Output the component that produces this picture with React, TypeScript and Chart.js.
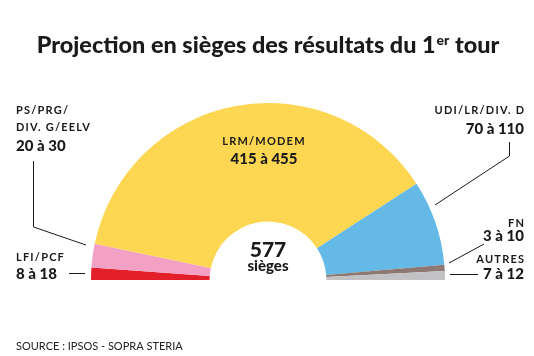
import React, { useEffect, useRef } from "react";
import { Chart, registerables } from "chart.js";

Chart.register(...registerables);

const parties = ["LFI/PCF", "PS/PRG/DIV. G/EELV", "LRM/MODEM", "UDI/LR/DIV. D", "FN", "AUTRES"];
const seatsMid = [13, 25, 435, 90, 6.5, 9.5];
const rangeLabels = ["8 à 18", "20 à 30", "415 à 455", "70 à 110", "3 à 10", "7 à 12"];
const colors = ["#e3202a", "#f3a0c5", "#fdd652", "#64b9e7", "#8d7872", "#c2c1c3"];
const totalSeats = "577";

const FONT = "Lato, 'Open Sans', sans-serif";

const labelsPlugin = {
  id: "labelsPlugin",
  afterDraw(chart: any) {
    const ctx = chart.ctx as CanvasRenderingContext2D;
    ctx.save();
    ctx.fillStyle = "#1a1a1a";
    ctx.textBaseline = "alphabetic";

    // Title, fitted to the reference width
    const t1 = "Projection en sièges des résultats du 1";
    const t2 = " tour";
    const measure = (size: number) => {
      ctx.font = `900 ${size}px ${FONT}`;
      const a = ctx.measureText(t1).width;
      const c = ctx.measureText(t2).width;
      ctx.font = `900 ${size * 0.6}px ${FONT}`;
      const b = ctx.measureText("er").width;
      return { a, b, c, tot: a + b + c + 1 };
    };
    let size = 22;
    const m0 = measure(size);
    size = size * (463 / m0.tot);
    const m = measure(size);
    let x = 268 - m.tot / 2;
    ctx.textAlign = "left";
    ctx.font = `900 ${size}px ${FONT}`;
    ctx.fillText(t1, x, 53);
    x += m.a;
    ctx.font = `900 ${size * 0.6}px ${FONT}`;
    ctx.fillText("er", x + 1, 45);
    x += m.b + 1;
    ctx.font = `900 ${size}px ${FONT}`;
    ctx.fillText(t2, x, 53);

    const small = (txt: string, px: number, py: number, align: CanvasTextAlign) => {
      ctx.font = `bold 11px ${FONT}`;
      (ctx as any).letterSpacing = "1.2px";
      ctx.textAlign = align;
      ctx.fillText(txt, align === "right" ? px + 1.2 : px, py);
      (ctx as any).letterSpacing = "0px";
    };
    const big = (txt: string, px: number, py: number, align: CanvasTextAlign) => {
      ctx.font = `900 15px ${FONT}`;
      ctx.textAlign = align;
      ctx.fillText(txt, px, py);
    };

    // Left labels
    small("PS/PRG/", 16, 114, "left");
    small("DIV. G/EELV", 16, 131, "left");
    big(rangeLabels[1], 16, 151, "left");
    small(parties[0], 16, 261, "left");
    big(rangeLabels[0], 16, 279, "left");

    // Right labels
    small(parties[3], 524, 114, "right");
    big(rangeLabels[3], 524, 134, "right");
    small(parties[4], 524, 227, "right");
    big(rangeLabels[4], 524, 241, "right");
    small(parties[5], 524, 263, "right");
    big(rangeLabels[5], 524, 279, "right");

    // Center labels
    small(parties[2], 264, 145, "center");
    big(rangeLabels[2], 264, 164, "center");

    ctx.font = `900 21px ${FONT}`;
    ctx.textAlign = "center";
    ctx.fillText(totalSeats, 268, 257);
    ctx.font = `900 15px ${FONT}`;
    ctx.fillText("sièges", 268, 271);

    // Source
    ctx.font = `11px ${FONT}`;
    ctx.textAlign = "left";
    ctx.fillStyle = "#222";
    ctx.fillText("SOURCE : IPSOS - SOPRA STERIA", 16, 350);

    // Leader lines
    ctx.strokeStyle = "#1a1a1a";
    ctx.lineWidth = 1;
    ctx.beginPath();
    ctx.moveTo(33.5, 161);
    ctx.lineTo(33.5, 227);
    ctx.lineTo(86, 245);
    ctx.moveTo(69, 273.5);
    ctx.lineTo(85, 273.5);
    ctx.moveTo(509.5, 142);
    ctx.lineTo(509.5, 156);
    ctx.lineTo(435, 205);
    ctx.moveTo(484, 244);
    ctx.lineTo(449, 263);
    ctx.moveTo(450, 274.5);
    ctx.lineTo(478, 274.5);
    ctx.stroke();

    ctx.restore();
  },
};

export default function App() {
  const ref = useRef<HTMLCanvasElement>(null);
  useEffect(() => {
    if (!ref.current) return;
    const chart = new Chart(ref.current, {
      type: "doughnut",
      data: {
        labels: parties,
        datasets: [
          {
            data: seatsMid,
            backgroundColor: colors,
            borderWidth: 0,
          },
        ],
      },
      options: {
        responsive: false,
        animation: false,
        rotation: -90,
        circumference: 180,
        cutout: "33%",
        layout: { padding: { left: 91, right: 89, top: 103, bottom: 76 } },
        plugins: {
          legend: { display: false },
          tooltip: { enabled: false },
          title: { display: false },
        },
      },
      plugins: [labelsPlugin],
    });
    return () => chart.destroy();
  }, []);
  return (
    <div style={{ position: "fixed", left: 0, top: 0, width: 534, height: 356, background: "#fff" }}>
      <canvas ref={ref} width={534} height={356} />
    </div>
  );
}
